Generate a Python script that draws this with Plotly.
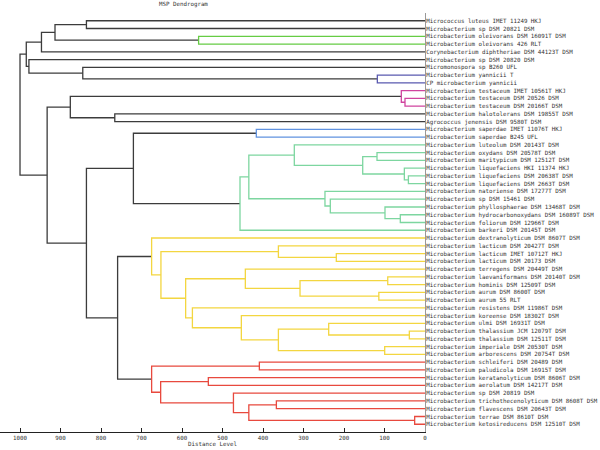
import plotly.graph_objects as go

labels = [
    "Micrococcus luteus IMET 11249 HKJ",
    "Microbacterium sp DSM 20821 DSM",
    "Microbacterium oleivorans DSM 16091T DSM",
    "Microbacterium oleivorans 426 RLT",
    "Corynebacterium diphtheriae DSM 44123T DSM",
    "Microbacterium sp DSM 20820 DSM",
    "Micromonospora sp B260 UFL",
    "Microbacterium yannicii T",
    "CP microbacterium yannicii",
    "Microbacterium testaceum IMET 10561T HKJ",
    "Microbacterium testaceum DSM 20526 DSM",
    "Microbacterium testaceum DSM 20166T DSM",
    "Microbacterium halotolerans DSM 19855T DSM",
    "Agrococcus jenensis DSM 9580T DSM",
    "Microbacterium saperdae IMET 11076T HKJ",
    "Microbacterium saperdae B245 UFL",
    "Microbacterium luteolum DSM 20143T DSM",
    "Microbacterium oxydans DSM 20578T DSM",
    "Microbacterium maritypicum DSM 12512T DSM",
    "Microbacterium liquefaciens HKI 11374 HKJ",
    "Microbacterium liquefaciens DSM 20638T DSM",
    "Microbacterium liquefaciens DSM 2663T DSM",
    "Microbacterium natoriense DSM 17277T DSM",
    "Microbacterium sp DSM 15461 DSM",
    "Microbacterium phyllosphaerae DSM 13468T DSM",
    "Microbacterium hydrocarbonoxydans DSM 16089T DSM",
    "Microbacterium foliorum DSM 12966T DSM",
    "Microbacterium barkeri DSM 20145T DSM",
    "Microbacterium dextranolyticum DSM 8607T DSM",
    "Microbacterium lacticum DSM 20427T DSM",
    "Microbacterium lacticum IMET 10712T HKJ",
    "Microbacterium lacticum DSM 20173 DSM",
    "Microbacterium terregens DSM 20449T DSM",
    "Microbacterium laevaniformans DSM 20140T DSM",
    "Microbacterium hominis DSM 12509T DSM",
    "Microbacterium aurum DSM 8600T DSM",
    "Microbacterium aurum 55 RLT",
    "Microbacterium resistens DSM 11986T DSM",
    "Microbacterium koreense DSM 18302T DSM",
    "Microbacterium ulmi DSM 16931T DSM",
    "Microbacterium thalassium JCM 12079T DSM",
    "Microbacterium thalassium DSM 12511T DSM",
    "Microbacterium imperiale DSM 20530T DSM",
    "Microbacterium arborescens DSM 20754T DSM",
    "Microbacterium schleiferi DSM 20489 DSM",
    "Microbacterium paludicola DSM 16915T DSM",
    "Microbacterium keratanolyticum DSM 8606T DSM",
    "Microbacterium aerolatum DSM 14217T DSM",
    "Microbacterium sp DSM 20819 DSM",
    "Microbacterium trichothecenolyticum DSM 8608T DSM",
    "Microbacterium flavescens DSM 20643T DSM",
    "Microbacterium terrae DSM 8610T DSM",
    "Microbacterium ketosireducens DSM 12510T DSM",
]

# linkage: node ids 0..52 are leaves, each merge creates node 53 + k
merge_left = [0, 2, 53, 55, 7, 6, 5, 56, 10, 9, 12, 62, 14,
              17, 20, 19, 66, 16, 25, 24, 23, 22, 70, 75, 65,
              30, 29, 33, 35, 80, 32, 40, 39, 42, 85, 38, 37, 83, 79, 28,
              44, 46, 49, 51, 95, 48, 94, 93, 92, 77, 64, 60]
merge_right = [1, 3, 54, 4, 8, 57, 58, 59, 11, 61, 13, 63, 15,
               18, 21, 67, 68, 69, 26, 71, 72, 73, 74, 27, 76,
               31, 78, 34, 36, 81, 82, 41, 84, 43, 86, 87, 88, 89, 90, 91,
               45, 47, 50, 52, 96, 97, 98, 99, 100, 101, 102, 103]
merge_height = [836, 559, 913.6, 947, 117.7, 845, 978, 984.5, 49.4, 58.5, 766, 875.8, 416.5,
                118.5, 41, 51, 153.8, 322.7, 61, 98.8, 233.8, 247, 435, 456.8, 720,
                219, 362, 92, 114, 308.6, 443.6, 38.7, 237.8, 99.5, 362, 453.5, 574.3, 591, 652, 675,
                409, 535, 367, 25.5, 435, 473, 652.7, 675, 759, 836, 933, 1000]

color_threshold = 700
cluster_palette = ["#66cc44", "#5a5ab0", "#d0449f", "#6193e0", "#7dd6a0", "#f3d640", "#e8493e"]
above_color = "#3c3c3c"

n = len(labels)
pos = {i: i + 1 for i in range(n)}
hgt = {i: 0.0 for i in range(n)}
for k, (a, b, h) in enumerate(zip(merge_left, merge_right, merge_height)):
    pos[n + k] = (pos[a] + pos[b]) / 2
    hgt[n + k] = h

# assign cluster colours (scipy style) in top-to-bottom order
node_color = {}
palette_i = [0]

def assign(node, col):
    if node < n:
        return
    k = node - n
    h = merge_height[k]
    if col is None and h < color_threshold:
        col = cluster_palette[palette_i[0] % len(cluster_palette)]
        palette_i[0] += 1
    node_color[node] = col if col is not None else above_color
    assign(merge_left[k], col)
    assign(merge_right[k], col)

assign(n + len(merge_height) - 1, None)

segs = {}
for k, (a, b, h) in enumerate(zip(merge_left, merge_right, merge_height)):
    c = node_color[n + k]
    xs, ys = segs.setdefault(c, ([], []))
    xs += [hgt[a], h, h, hgt[b], None]
    ys += [pos[a], pos[a], pos[b], pos[b], None]

FONT = "DejaVu Sans Mono"
FS = 5.8
TXT = "#333"

fig = go.Figure()
for c, (xs, ys) in segs.items():
    fig.add_trace(go.Scatter(x=xs, y=ys, mode="lines", line=dict(color=c, width=1.3),
                             hoverinfo="skip", showlegend=False))

fig.update_layout(
    width=600, height=450,
    margin=dict(l=0, r=175, t=13, b=18),
    plot_bgcolor="white", paper_bgcolor="white",
    font=dict(family=FONT, size=FS, color=TXT),
    showlegend=False,
    annotations=[dict(text="MSP Dendrogram", xref="paper", yref="paper",
                      x=183 / 425, y=1 + 9 / 419, xanchor="center", yanchor="middle",
                      showarrow=False, font=dict(family=FONT, size=FS, color=TXT))],
)
fig.update_xaxes(range=[1049.4, 0], tickvals=list(range(0, 1001, 100)),
                 ticks="inside", ticklen=4, tickcolor="#222", showline=True,
                 linecolor="#222", linewidth=1, showgrid=False, zeroline=False,
                 tickfont=dict(family=FONT, size=FS, color=TXT), automargin=False,
                 title=dict(text="Distance Level", font=dict(family=FONT, size=FS, color=TXT), standoff=0))
fig.update_yaxes(range=[54, 0], side="right", tickvals=[i + 1 for i in range(n)],
                 ticktext=labels, showline=True, linecolor="#999", linewidth=1,
                 ticks="", showgrid=False, zeroline=False, automargin=False,
                 tickfont=dict(family=FONT, size=FS, color=TXT), ticklabelstandoff=-1)

fig.write_html("out.html", config={"displayModeBar": False},
               post_script="document.body.style.margin='0';")
